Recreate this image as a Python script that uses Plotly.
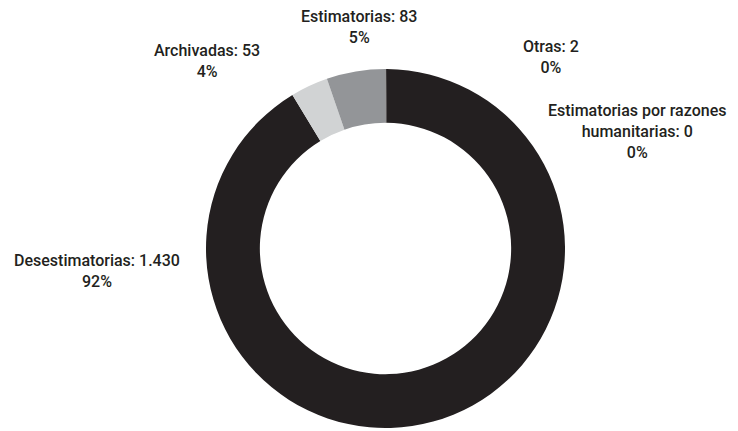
import plotly.graph_objects as go

# Resoluciones por tipo (orden de dibujo: en sentido horario desde las 12)
categorias = [
    "Otras",
    "Estimatorias por razones<br>humanitarias",
    "Desestimatorias",
    "Archivadas",
    "Estimatorias",
]
valores = [2, 0, 1430, 53, 83]
porcentajes = ["0%", "0%", "92%", "4%", "5%"]
colores = ["#2a2627", "#bcbec0", "#231f20", "#d1d3d4", "#939598"]

# Posición (px) del centro de cada etiqueta en el lienzo de 738x431
W, H = 738, 431
pos_etiquetas = [(551, 57), (637, 131), (97, 270.5), (207, 60.5), (359, 27)]

cx, cy, r = 385.5, 248.5, 179.5

fig = go.Figure(
    go.Pie(
        labels=categorias,
        values=valores,
        sort=False,
        direction="clockwise",
        rotation=0,
        hole=0.70,
        marker=dict(colors=colores, line=dict(width=0)),
        textinfo="none",
        hoverinfo="label+value",
        domain=dict(x=[(cx - r) / W, (cx + r) / W], y=[1 - (cy + r) / H, 1 - (cy - r) / H]),
        showlegend=False,
    )
)


def fmt(v):
    return f"{v:,}".replace(",", ".")


for cat, val, pct, (px, py) in zip(categorias, valores, porcentajes, pos_etiquetas):
    fig.add_annotation(
        x=px / W,
        y=1 - py / H,
        xref="paper",
        yref="paper",
        xanchor="center",
        yanchor="middle",
        align="center",
        showarrow=False,
        text=f"{cat}: {fmt(val)}<br>{pct}",
        font=dict(family="Roboto", size=16, color="#231f20", weight=500),
    )

fig.update_layout(
    width=W,
    height=H,
    margin=dict(l=0, r=0, t=0, b=0),
    paper_bgcolor="white",
    plot_bgcolor="white",
)

fig.write_html("out.html")
